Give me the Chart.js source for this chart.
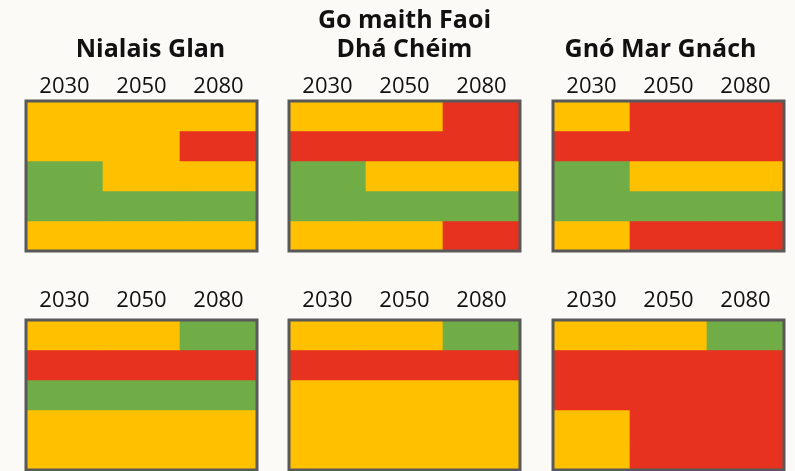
<!DOCTYPE html>
<html>
<head>
<meta charset="utf-8">
<script src="https://cdn.jsdelivr.net/npm/chart.js@4.4.1/dist/chart.umd.min.js"></script>
<style>
  html, body { margin: 0; padding: 0; background: #FBFAF7; width: 795px; height: 471px; overflow: hidden; }
  canvas { position: absolute; }
</style>
</head>
<body>
<canvas id="c1"></canvas>
<canvas id="c2"></canvas>
<canvas id="c3"></canvas>
<canvas id="c4"></canvas>
<canvas id="c5"></canvas>
<canvas id="c6"></canvas>
<script>
// ---- data ----
const years = ['2030', '2050', '2080'];

const titleNialaisGlan = ['Nialais Glan'];
const titleGoMaith = ['Go maith Faoi', 'Dhá Chéim'];
const titleGnoMarGnach = ['Gnó Mar Gnách'];

// Ratings per row (top to bottom), one entry per year: G = green, Y = amber, R = red
const topNialaisGlan = [
  ['Y', 'Y', 'Y'],
  ['Y', 'Y', 'R'],
  ['G', 'Y', 'Y'],
  ['G', 'G', 'G'],
  ['Y', 'Y', 'Y']
];
const topGoMaith = [
  ['Y', 'Y', 'R'],
  ['R', 'R', 'R'],
  ['G', 'Y', 'Y'],
  ['G', 'G', 'G'],
  ['Y', 'Y', 'R']
];
const topGnoMarGnach = [
  ['Y', 'R', 'R'],
  ['R', 'R', 'R'],
  ['G', 'Y', 'Y'],
  ['G', 'G', 'G'],
  ['Y', 'R', 'R']
];
const bottomNialaisGlan = [
  ['Y', 'Y', 'G'],
  ['R', 'R', 'R'],
  ['G', 'G', 'G'],
  ['Y', 'Y', 'Y'],
  ['Y', 'Y', 'Y']
];
const bottomGoMaith = [
  ['Y', 'Y', 'G'],
  ['R', 'R', 'R'],
  ['Y', 'Y', 'Y'],
  ['Y', 'Y', 'Y'],
  ['Y', 'Y', 'Y']
];
const bottomGnoMarGnach = [
  ['Y', 'Y', 'G'],
  ['R', 'R', 'R'],
  ['R', 'R', 'R'],
  ['Y', 'R', 'R'],
  ['Y', 'R', 'R']
];

// ---- styling ----
const ratingColors = { G: '#70AD47', Y: '#FFC000', R: '#E6321F' };
const FONT = '"Open Sans", "Noto Sans", sans-serif';

const framePlugin = {
  id: 'frame',
  afterDatasetsDraw(chart) {
    const a = chart.chartArea, ctx = chart.ctx;
    ctx.save();
    ctx.strokeStyle = '#595959';
    ctx.lineWidth = 3;
    ctx.strokeRect(a.left, a.top, a.right - a.left, a.bottom - a.top);
    ctx.restore();
  }
};

function makePanel(id, grid, title, pos) {
  const cv = document.getElementById(id);
  cv.style.left = pos.left + 'px';
  cv.style.top = pos.top + 'px';
  cv.width = pos.width;
  cv.height = pos.height;

  const datasets = grid.map((row, i) => ({
    label: 'row ' + (i + 1),
    data: row.map(() => 1),
    backgroundColor: row.map(c => ratingColors[c]),
    borderWidth: 0,
    barPercentage: 1,
    categoryPercentage: 1,
    stack: 's'
  }));

  const scales = {
    x: {
      type: 'category',
      position: 'top',
      stacked: true,
      grid: { display: false, drawTicks: false },
      border: { display: false },
      ticks: { color: '#111', font: { family: FONT, size: 22 }, padding: pos.tickPad, maxRotation: 0 },
      afterFit: s => { s.height = pos.axisH; }
    },
    y: {
      display: false,
      stacked: true,
      reverse: true,
      min: 0,
      max: grid.length
    }
  };
  if (pos.shift) {
    scales.pad = {
      type: 'linear',
      position: pos.shift > 0 ? 'right' : 'left',
      display: true,
      grid: { display: false, drawTicks: false },
      border: { display: false },
      ticks: { display: false },
      afterFit: s => { s.width = Math.abs(pos.shift); }
    };
  }

  return new Chart(cv, {
    type: 'bar',
    data: { labels: years, datasets },
    options: {
      responsive: false,
      animation: false,
      devicePixelRatio: 1,
      layout: { padding: { left: 2, right: 2, top: 0, bottom: pos.padBottom } },
      plugins: {
        legend: { display: false },
        tooltip: { enabled: false },
        title: {
          display: !!title,
          text: title || '',
          color: '#111',
          font: { family: FONT, size: 25, weight: 'bold', lineHeight: 29 / 25 },
          padding: { top: title && title.length > 1 ? 6.5 : 35.5, bottom: 0 }
        }
      },
      scales
    },
    plugins: [framePlugin]
  });
}

// top row: chart area y 101..251 ; bottom row: 320..470
makePanel('c1', topNialaisGlan, titleNialaisGlan, { left: 24, top: 0, width: 253, height: 254, padBottom: 3, axisH: 36.5, tickPad: 1, shift: 18 });
makePanel('c2', topGoMaith, titleGoMaith, { left: 287, top: 0, width: 235, height: 254, padBottom: 3, axisH: 36.5, tickPad: 1, shift: 0 });
makePanel('c3', topGnoMarGnach, titleGnoMarGnach, { left: 535, top: 0, width: 251, height: 254, padBottom: 3, axisH: 36.5, tickPad: 1, shift: -16 });
makePanel('c4', bottomNialaisGlan, null, { left: 24, top: 260, width: 235, height: 212, padBottom: 2, axisH: 60, tickPad: 6, shift: 0 });
makePanel('c5', bottomGoMaith, null, { left: 287, top: 260, width: 235, height: 212, padBottom: 2, axisH: 60, tickPad: 6, shift: 0 });
makePanel('c6', bottomGnoMarGnach, null, { left: 551, top: 260, width: 235, height: 212, padBottom: 2, axisH: 60, tickPad: 6, shift: 0 });
</script>
</body>
</html>
